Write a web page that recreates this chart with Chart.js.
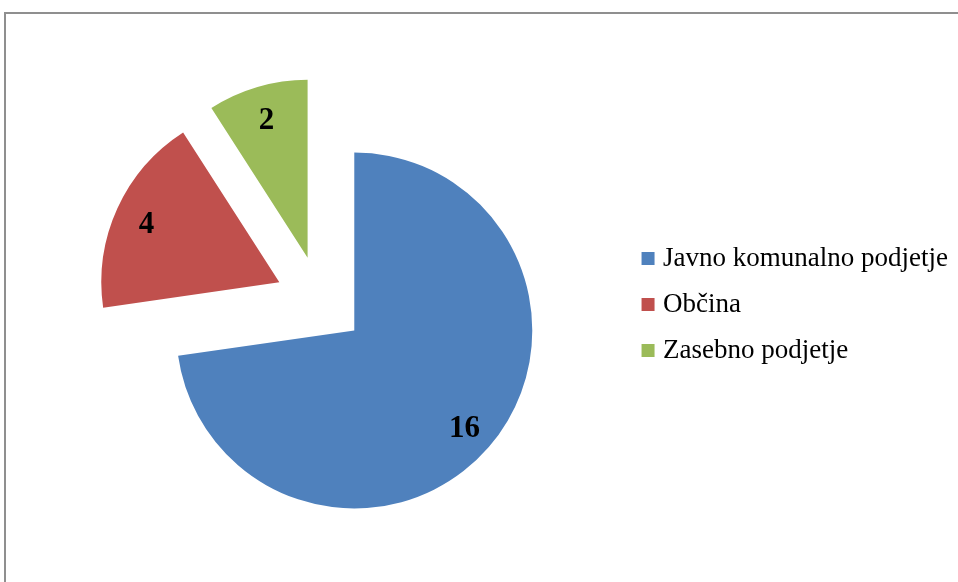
<!DOCTYPE html>
<html>
<head>
<meta charset="utf-8">
<script src="https://cdn.jsdelivr.net/npm/chart.js@4/dist/chart.umd.min.js"></script>
<style>
  html, body { margin: 0; padding: 0; background: #fff; }
  #wrap { position: relative; width: 958px; height: 582px; overflow: hidden; }
  #frame { position: absolute; left: 4px; top: 12px; width: 1200px; height: 900px;
           border-left: 2px solid #8f8f8f; border-top: 2px solid #8f8f8f; box-sizing: border-box; }
  #c { position: absolute; left: 0; top: 0; }
</style>
</head>
<body>
<div id="wrap">
  <div id="frame"></div>
  <canvas id="c" width="958" height="582"></canvas>
</div>
<script>
const categories = ["Javno komunalno podjetje", "Občina", "Zasebno podjetje"];
const values = [16, 4, 2];
const colors = ["#4F81BD", "#C0504D", "#9BBB59"];

const EXPLODE = 45;      // explosion distance of every slice (px)
const LABEL_POS = 0.82;  // label position as fraction of radius

const explodePlugin = {
  id: 'explode',
  afterDatasetsUpdate(chart) {
    chart.getDatasetMeta(0).data.forEach(arc => {
      const mid = (arc.startAngle + arc.endAngle) / 2;
      arc.x += Math.cos(mid) * EXPLODE;
      arc.y += Math.sin(mid) * EXPLODE;
    });
  }
};

const labelPlugin = {
  id: 'sliceLabels',
  afterDatasetsDraw(chart) {
    const ctx = chart.ctx;
    const ds = chart.data.datasets[0];
    ctx.save();
    ctx.font = 'bold 31px "Liberation Serif", "Times New Roman", serif';
    ctx.fillStyle = '#000';
    ctx.textAlign = 'center';
    ctx.textBaseline = 'alphabetic';
    chart.getDatasetMeta(0).data.forEach((arc, i) => {
      const mid = (arc.startAngle + arc.endAngle) / 2;
      const r = arc.outerRadius * LABEL_POS;
      ctx.fillText(String(ds.data[i]), arc.x + Math.cos(mid) * r, arc.y + Math.sin(mid) * r + 11);
    });
    ctx.restore();
  }
};

new Chart(document.getElementById('c'), {
  type: 'pie',
  data: {
    labels: categories,
    datasets: [{
      data: values,
      backgroundColor: colors,
      borderWidth: 0,
      offset: 0
    }]
  },
  options: {
    responsive: false,
    animation: false,
    events: [],
    radius: 178,
    layout: { padding: { left: 13, right: 0, top: 40, bottom: 20 } },
    plugins: {
      legend: {
        position: 'right',
        align: 'center',
        title: { display: true, text: '', padding: 0, font: { size: 6, lineHeight: 1.2 } },
        labels: {
          boxWidth: 3,
          boxHeight: 3,
          padding: 19,
          color: '#000',
          font: { family: '"Liberation Serif", "Times New Roman", serif', size: 27 },
          generateLabels(chart) {
            return chart.data.labels.map((label, i) => ({
              text: label,
              fillStyle: colors[i],
              strokeStyle: colors[i],
              lineWidth: 10,
              lineJoin: 'miter',
              fontColor: '#000',
              hidden: false,
              index: i
            }));
          }
        }
      },
      tooltip: { enabled: false }
    }
  },
  plugins: [explodePlugin, labelPlugin]
});
</script>
</body>
</html>
